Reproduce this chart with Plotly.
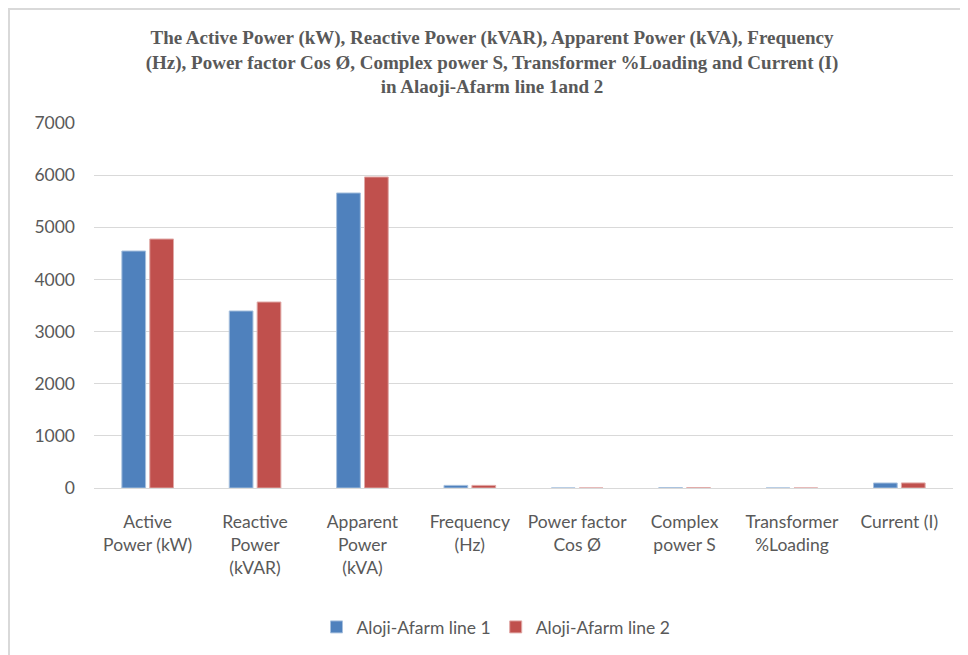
import plotly.graph_objects as go

categories = [
    "Active<br>Power (kW)",
    "Reactive<br>Power<br>(kVAR)",
    "Apparent<br>Power<br>(kVA)",
    "Frequency<br>(Hz)",
    "Power factor<br>Cos Ø",
    "Complex<br>power S",
    "Transformer<br>%Loading",
    "Current (I)",
]
line1_values = [4545, 3395, 5658, 50, 0.8, 5.66, 0.75, 96]
line2_values = [4775, 3567, 5965, 50, 0.8, 5.97, 0.79, 97]
series_names = ["Aloji-Afarm line 1", "Aloji-Afarm line 2"]
y_ticks = [0, 1000, 2000, 3000, 4000, 5000, 6000, 7000]

title_text = ("<b>The Active Power (kW), Reactive Power (kVAR), Apparent Power (kVA), Frequency<br>"
              "(Hz), Power factor Cos Ø, Complex power S, Transformer %Loading and Current (I)<br>"
              "in Alaoji-Afarm line 1and 2</b>")

fig = go.Figure()
fig.add_trace(go.Bar(x=categories, y=line1_values, name=series_names[0],
                     marker=dict(color="#4F81BD", line=dict(color="#A7C0DE", width=1))))
fig.add_trace(go.Bar(x=categories, y=line2_values, name=series_names[1],
                     marker=dict(color="#C0504D", line=dict(color="#E0A8A6", width=1))))

# the page is shown with an 8px body offset, so coordinates are in figure pixels
L, R, T, B = 86, 23, 115, 175
W, H = 968, 655
pw, ph = W - L - R, H - T - B
def px(xp):
    return (xp - L) / pw
def py(yp):
    return (H - B - yp) / ph

# outer chart frame (partly off-canvas, as in the cropped reference)
fig.add_shape(type="rect", xref="paper", yref="paper",
              x0=px(1), x1=px(1100), y0=py(900), y1=py(1),
              line=dict(color="#D9D9D9", width=2), fillcolor="rgba(0,0,0,0)", layer="below")

fig.update_layout(
    width=W, height=H,
    margin=dict(l=L, r=R, t=T, b=B),
    paper_bgcolor="white", plot_bgcolor="white",
    title=dict(text=title_text, x=px(484), xref="paper", xanchor="center", y=1 - 36 / H, yanchor="top",
               font=dict(family="Liberation Serif", size=19, color="#595959")),
    barmode="group", bargap=0.48, bargroupgap=0.15,
    font=dict(family="Lato", size=17, color="#595959"),
    xaxis=dict(showgrid=False, showline=True, linecolor="#D9D9D9", linewidth=1,
               ticks="", ticklabelstandoff=18, tickfont=dict(size=17.5, color="#595959")),
    yaxis=dict(range=[0, 7000], tickvals=y_ticks, showgrid=True, gridcolor="#D9D9D9",
               gridwidth=1, zeroline=False, showline=False, ticks="",
               ticklabelstandoff=18, tickfont=dict(size=17.5, color="#595959")),
    legend=dict(orientation="h", x=px(488), xanchor="center", y=py(619), yanchor="middle",
                font=dict(size=17.5, color="#595959"), itemwidth=30),
    showlegend=True,
)

fig.write_html("out.html")
